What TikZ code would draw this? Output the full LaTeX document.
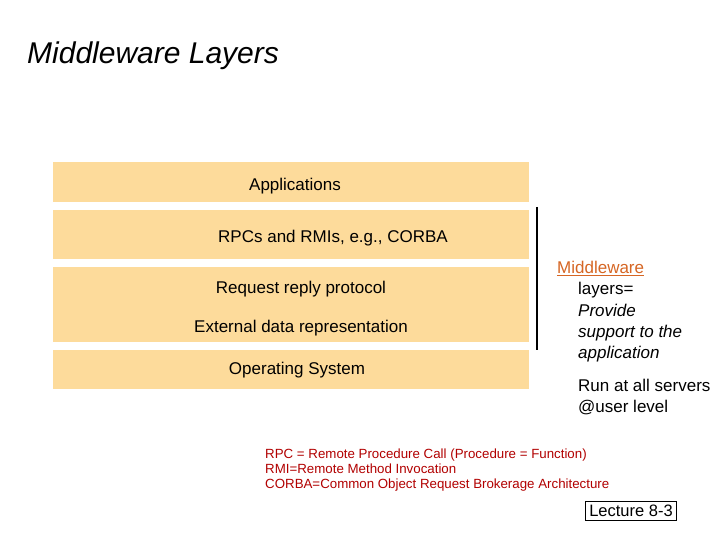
\documentclass[tikz,border=0pt]{standalone}
\usepackage{fontspec}
\setmainfont{Liberation Sans}
\begin{document}
\begin{tikzpicture}[x=1pt,y=-1pt,
  lbl/.style={font=\fontsize{17}{20}\selectfont, anchor=center},
  red/.style={font=\fontsize{13.3}{15}\selectfont, text=red!70!black, anchor=north west, align=left, inner sep=0}]
\definecolor{layerc}{RGB}{253,219,155}
\useasboundingbox (0,0) rectangle (720,540);
\fill[white] (0,0) rectangle (720,540);
\node[anchor=west, inner sep=0, font=\fontsize{30}{34}\selectfont\itshape] (title) at (27,56) {Middleware Layers};
\fill[layerc] (53,162) rectangle (529,202);
\fill[layerc] (53,210) rectangle (529,259);
\fill[layerc] (53,267) rectangle (529,342);
\fill[layerc] (53,350) rectangle (529,389);
\node[lbl] (app) at (295,186) {Applications};
\node[lbl] (rpc) at (333,238) {RPCs and RMIs, e.g., CORBA};
\node[lbl] (req) at (301,289) {Request reply protocol};
\node[lbl] (ext) at (301,328) {External data representation};
\node[lbl] (os) at (297,370) {Operating System};
\coordinate (vt) at (537,207);
\coordinate (vb) at (537,350);
\draw[line width=2.5pt] (vt) -- (vb);
\node[anchor=north west, inner sep=0, align=left, font=\fontsize{17}{21.3}\selectfont] (mw) at (557,261)
 {\textcolor[RGB]{214,102,36}{\underline{Middleware}}\\
  \hspace{21pt}layers=\\
  \hspace{21pt}\textit{Provide}\\
  \hspace{21pt}\textit{support to the}\\
  \hspace{21pt}\textit{application}\\[11pt]
  \hspace{21pt}Run at all servers\\
  \hspace{21pt}@user level};
\node[red] (defs) at (265,449) {RPC = Remote Procedure Call (Procedure = Function)\\RMI=Remote Method Invocation\\CORBA=Common Object Request Brokerage Architecture};
\node[draw, line width=1.2pt, font=\fontsize{16.5}{19}\selectfont, inner sep=3.5pt] (lec) at (631,511) {Lecture 8-3};
\end{tikzpicture}
\end{document}
